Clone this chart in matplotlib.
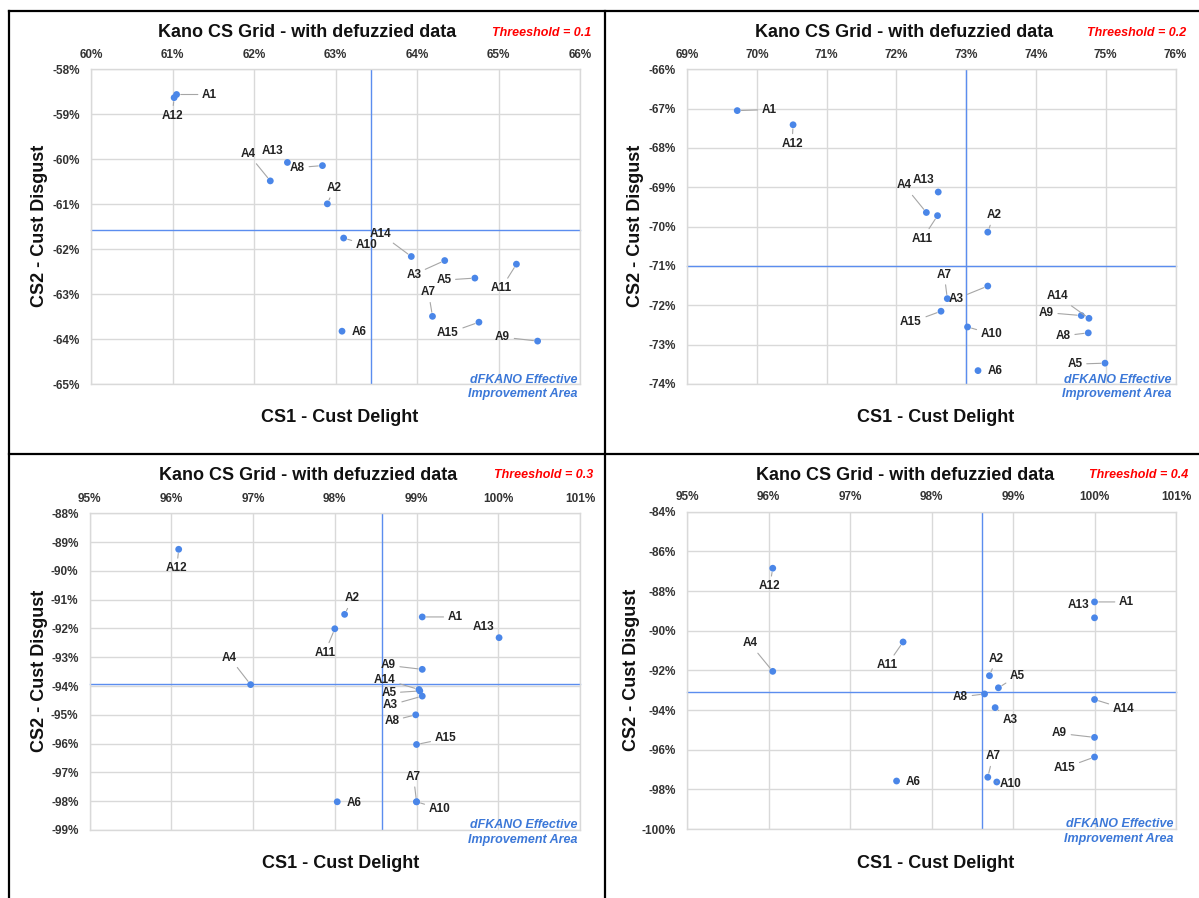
import matplotlib
matplotlib.use('Agg')
import matplotlib.pyplot as plt
from matplotlib.lines import Line2D
from matplotlib.ticker import MultipleLocator, FuncFormatter

plt.rcParams['font.family'] = ['Liberation Sans', 'DejaVu Sans']

W, H = 1199, 898

labels = ['A1', 'A2', 'A3', 'A4', 'A5', 'A6', 'A7', 'A8', 'A9', 'A10',
          'A11', 'A12', 'A13', 'A14', 'A15']

# ---- data (percent) ----
delight_01 = [61.05, 62.90, 64.34, 62.20, 64.71, 63.08, 64.19, 62.84, 65.48, 63.10,
              65.22, 61.02, 62.41, 63.93, 64.76]
disgust_01 = [-58.56, -60.99, -62.25, -60.48, -62.64, -63.82, -63.49, -60.14, -64.04, -61.75,
              -62.33, -58.63, -60.07, -62.16, -63.62]

delight_02 = [69.72, 73.31, 73.31, 72.43, 74.99, 73.17, 72.73, 74.75, 74.65, 73.02,
              72.59, 70.52, 72.60, 74.76, 72.64]
disgust_02 = [-67.05, -70.14, -71.51, -69.64, -73.47, -73.66, -71.83, -72.70, -72.26, -72.55,
              -69.72, -67.41, -69.12, -72.33, -72.15]

delight_03 = [99.07, 98.12, 99.07, 96.97, 99.04, 98.03, 99.00, 98.99, 99.07, 99.00,
              98.00, 96.09, 100.01, 99.03, 99.00]
disgust_03 = [-91.60, -91.51, -94.35, -93.95, -94.17, -98.02, -98.02, -95.00, -93.42, -98.02,
              -92.01, -89.25, -92.32, -94.12, -96.03]

delight_04 = [100.0, 98.71, 98.78, 96.05, 98.82, 97.57, 98.69, 98.65, 100.0, 98.80,
              97.65, 96.05, 100.0, 100.0, 100.0]
disgust_04 = [-88.55, -92.27, -93.88, -92.05, -92.88, -97.58, -97.39, -93.19, -95.38, -97.63,
              -90.57, -86.85, -89.35, -93.47, -96.37]

threshold_names = ['Threeshold = 0.1', 'Threeshold = 0.2', 'Threeshold = 0.3', 'Threeshold = 0.4']
split_delight = [63.43, 73.00, 98.58, 98.62]
split_disgust = [-61.58, -71.00, -93.92, -93.10]

x_ranges = [(60, 66, 1), (69, 76, 1), (95, 101, 1), (95, 101, 1)]
y_ranges = [(-65, -58, 1), (-74, -66, 1), (-99, -88, 1), (-100, -84, 2)]

# ---- layout / styling (pixel positions) ----
label_offsets = [
    [(33, 0), (7, -16), (-31, 14), (-22, -27), (-31, 2), (17, 1), (-4, -24), (-25, 2),
     (-35, -4), (23, 7), (-15, 24), (-2, 18), (-15, -11), (-31, -23), (-31, 11)],
    [(32, -1), (6, -17), (-32, 13), (-22, -27), (-30, 1), (17, 0), (-3, -24), (-25, 3),
     (-35, -3), (24, 7), (-15, 23), (-1, 19), (-15, -12), (-31, -22), (-30, 11)],
    [(33, 0), (8, -16), (-32, 9), (-21, -27), (-31, 2), (17, 1), (-3, -25), (-24, 6),
     (-34, -4), (23, 7), (-10, 24), (-2, 19), (-16, -11), (-34, -10), (29, -6)],
    [(32, 0), (7, -17), (15, 12), (-23, -28), (19, -12), (17, 1), (5, -21), (-24, 3),
     (-35, -4), (14, 2), (-16, 23), (-3, 18), (-16, -13), (29, 9), (-30, 11)],
]
no_leader = {'A6', 'A13'}

axes_px = [(91, 69.3, 580, 384.3), (687, 69.3, 1175.5, 384),
           (89.6, 513.3, 580, 830), (687.2, 511.7, 1176, 829)]
title_px = [(307, 32.7), (904, 32.7), (308, 475), (905, 475)]
thr_px = [(591, 32.7), (1186, 32.7), (593, 475), (1188, 475)]
xlab_px = [(340, 418), (936, 418), (341, 863), (936, 863)]
ylab_px = [(39, 226), (636, 226), (39, 671), (631, 670)]
note_px = [(577, 380, 394), (1172, 380, 394), (577, 825, 840), (1173.5, 824, 839)]

point_color = '#4a86e8'
line_color = '#5b8def'
grid_color = '#d9d9d9'
tick_color = '#333333'

fig = plt.figure(figsize=(W / 100, H / 100), dpi=100)

def fx(x):
    return x / W

def fy(y):
    return 1 - y / H

datasets = [(delight_01, disgust_01), (delight_02, disgust_02),
            (delight_03, disgust_03), (delight_04, disgust_04)]

for i, (xs, ys) in enumerate(datasets):
    l, t, r, b = axes_px[i]
    ax = fig.add_axes([fx(l), fy(b), (r - l) / W, (b - t) / H])
    x0, x1, xs_step = x_ranges[i]
    y0, y1, ys_step = y_ranges[i]
    ax.set_xlim(x0, x1)
    ax.set_ylim(y0, y1)
    ax.xaxis.set_major_locator(MultipleLocator(xs_step))
    ax.yaxis.set_major_locator(MultipleLocator(ys_step))
    ax.xaxis.set_major_formatter(FuncFormatter(lambda v, p: f'{v:.0f}%'))
    ax.yaxis.set_major_formatter(FuncFormatter(lambda v, p: f'{v:.0f}%'))
    ax.xaxis.tick_top()
    ax.tick_params(axis='both', length=0, labelsize=8.5, colors=tick_color)
    ax.tick_params(axis='x', pad=6)
    ax.tick_params(axis='y', pad=8)
    for lab in ax.get_xticklabels() + ax.get_yticklabels():
        lab.set_fontweight('bold')
    ax.grid(True, color=grid_color, lw=1.0)
    ax.set_axisbelow(True)
    for s in ax.spines.values():
        s.set_color(grid_color)
        s.set_linewidth(1.0)

    ax.axvline(split_delight[i], color=line_color, lw=1.0, zorder=2)
    ax.axhline(split_disgust[i], color=line_color, lw=1.0, zorder=2, clip_on=False)

    ax.scatter(xs, ys, s=24, color=point_color, zorder=4, edgecolors='none')

    for j, name in enumerate(labels):
        dx, dy = label_offsets[i][j]
        arrow = None
        if name not in no_leader:
            arrow = dict(arrowstyle='-', color='#a6a6a6', lw=0.8, shrinkA=1, shrinkB=3)
        ax.annotate(name, (xs[j], ys[j]), xytext=(dx, -dy), textcoords='offset pixels',
                    ha='center', va='center', fontsize=8.5, fontweight='bold', color='#222222',
                    arrowprops=arrow, zorder=5, annotation_clip=False)

    tx, ty = title_px[i]
    fig.text(fx(tx), fy(ty), 'Kano CS Grid - with defuzzied data', ha='center', va='center',
             fontsize=13, fontweight='bold', color='#111111')
    rx, ry = thr_px[i]
    fig.text(fx(rx), fy(ry), threshold_names[i], ha='right', va='center', fontsize=9,
             fontweight='bold', fontstyle='italic', color='#ff0000')
    lx, ly = xlab_px[i]
    fig.text(fx(lx), fy(ly), 'CS1 - Cust Delight', ha='center', va='center',
             fontsize=13, fontweight='bold', color='#111111')
    yx, yy = ylab_px[i]
    fig.text(fx(yx), fy(yy), 'CS2 - Cust Disgust', ha='center', va='center', rotation=90,
             fontsize=13, fontweight='bold', color='#111111')
    nx, ny1, ny2 = note_px[i]
    fig.text(fx(nx), fy(ny1), 'dFKANO Effective', ha='right', va='center', fontsize=9,
             fontweight='bold', fontstyle='italic', color='#3c78d8')
    fig.text(fx(nx), fy(ny2), 'Improvement Area', ha='right', va='center', fontsize=9,
             fontweight='bold', fontstyle='italic', color='#3c78d8')

# panel borders
border_kw = dict(color='black', lw=1.6, transform=fig.transFigure)
fig.add_artist(Line2D([fx(8.5), fx(8.5)], [0, fy(10.7)], **border_kw))
fig.add_artist(Line2D([fx(8.5), 1], [fy(10.7), fy(10.7)], **border_kw))
fig.add_artist(Line2D([fx(605), fx(605)], [0, fy(10.7)], **border_kw))
fig.add_artist(Line2D([fx(8.5), 1], [fy(453.7), fy(453.7)], **border_kw))

fig.savefig('out.png', dpi=100)
